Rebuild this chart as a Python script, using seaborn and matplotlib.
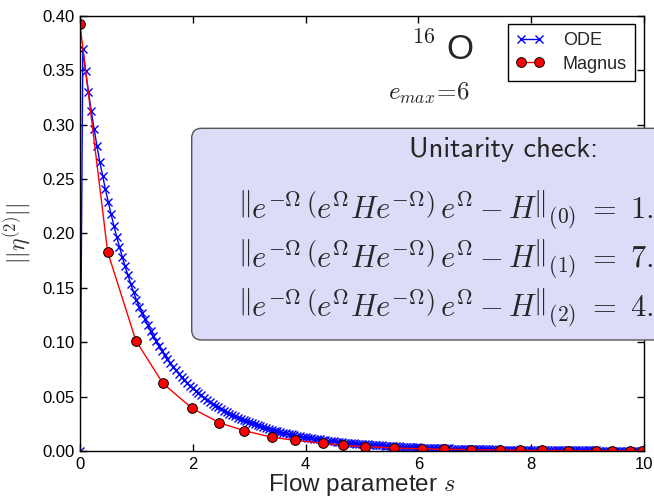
import os
import numpy as np
import matplotlib
matplotlib.use("Agg")
import matplotlib.pyplot as plt
from matplotlib.patches import FancyBboxPatch
from matplotlib.font_manager import FontProperties
import seaborn as sns

# ||eta^(2)|| along the flow, ODE integration (uniform grid in s from 0 to 10)
ode_eta = [0.0,
    0.3690, 0.3490, 0.3300, 0.3125, 0.2960, 0.2805, 0.2660, 0.2530, 0.2405, 0.2290,
    0.2178, 0.2072, 0.1971, 0.1875, 0.1783, 0.1696, 0.1614, 0.1535, 0.1460, 0.1389,
    0.1327, 0.1268, 0.1211, 0.1157, 0.1105, 0.1056, 0.1008, 0.0963, 0.0920, 0.0879,
    0.0842, 0.0807, 0.0774, 0.0741, 0.0711, 0.0681, 0.0653, 0.0626, 0.0600, 0.0575,
    0.0552, 0.0531, 0.0510, 0.0490, 0.0471, 0.0452, 0.0435, 0.0418, 0.0401, 0.0386,
    0.0371, 0.0357, 0.0344, 0.0331, 0.0318, 0.0306, 0.0295, 0.0283, 0.0273, 0.0262,
    0.0253, 0.0244, 0.0235, 0.0226, 0.0218, 0.0210, 0.0202, 0.0195, 0.0188, 0.0181,
    0.0175, 0.0169, 0.0163, 0.0157, 0.0152, 0.0146, 0.0141, 0.0136, 0.0131, 0.0127,
    0.0123, 0.0118, 0.0114, 0.0110, 0.0107, 0.0103, 0.0100, 0.0096, 0.0093, 0.0090,
    0.0087, 0.0084, 0.0081, 0.0078, 0.0076, 0.0073, 0.0071, 0.0068, 0.0066, 0.0064,
    0.0062, 0.0060, 0.0058, 0.0056, 0.0054, 0.0052, 0.0051, 0.0049, 0.0048, 0.0046,
    0.0045, 0.0043, 0.0042, 0.0040, 0.0039, 0.0038, 0.0037, 0.0035, 0.0034, 0.0033,
    0.0032, 0.0031, 0.0030, 0.0029, 0.0028, 0.0027, 0.0026, 0.0025, 0.0025, 0.0024,
    0.0023, 0.0022, 0.0022, 0.0021, 0.0020, 0.0020, 0.0019, 0.0018, 0.0018, 0.0017,
    0.0017, 0.0016, 0.0016, 0.0015, 0.0015, 0.0014, 0.0014, 0.0013, 0.0013, 0.0013,
    0.0012, 0.0012, 0.0011, 0.0011, 0.0011, 0.0010, 0.0010, 0.0010, 0.0009, 0.0009,
    0.0009, 0.0009, 0.0008, 0.0008, 0.0008, 0.0008, 0.0007, 0.0007, 0.0007, 0.0007,
    0.0007, 0.0006, 0.0006, 0.0006, 0.0006, 0.0006, 0.0005, 0.0005, 0.0005, 0.0005,
    0.0005, 0.0005, 0.0005, 0.0004, 0.0004, 0.0004, 0.0004, 0.0004, 0.0004, 0.0004,
    0.0004, 0.0003, 0.0003, 0.0003, 0.0003, 0.0003, 0.0003, 0.0003, 0.0003, 0.0003]
ode_s = np.linspace(0.0, 10.0, len(ode_eta))

# Magnus expansion, adaptive steps in s
magnus_s = [0.0, 0.49, 0.99, 1.47, 1.98, 2.47, 2.91, 3.41, 3.81, 4.30, 4.66, 5.05,
            5.56, 6.06, 6.46, 6.94, 7.45, 7.80, 8.20, 8.66, 9.15, 9.44, 9.75, 9.96]
magnus_eta = [0.392, 0.183, 0.1014, 0.0622, 0.0395, 0.0260, 0.0187, 0.0126, 0.0098,
              0.0071, 0.0052, 0.0040, 0.0028, 0.0020, 0.0016, 0.0012, 0.0009, 0.0007,
              0.0005, 0.0004, 0.0003, 0.0002, 0.0002, 0.0002]

x_ticks = [0, 2, 4, 6, 8, 10]
y_ticks = [0.00, 0.05, 0.10, 0.15, 0.20, 0.25, 0.30, 0.35, 0.40]
series_labels = ["ODE", "Magnus"]

sns.set_style("ticks")
plt.rcParams["font.family"] = ["Liberation Sans", "DejaVu Sans"]
plt.rcParams["mathtext.fontset"] = "cm"

# Computer Modern Sans shipped with matplotlib, for the panel heading
cmss_path = os.path.join(matplotlib.get_data_path(), "fonts", "ttf", "cmss10.ttf")
cmss = FontProperties(fname=cmss_path, size=20.5)

W, H = 654, 500
fig = plt.figure(figsize=(W / 100, H / 100), dpi=100)
ax = fig.add_axes([80 / W, 49 / H, 564 / W, 435.3 / H])

sns.lineplot(x=ode_s, y=ode_eta, ax=ax, color="#0000ff", marker="x",
             markersize=5.5, markeredgewidth=1.0, markeredgecolor="#0000ff",
             linewidth=1.0, label=series_labels[0], clip_on=True)
sns.lineplot(x=magnus_s, y=magnus_eta, ax=ax, color="#ff0000", marker="o",
             markersize=7, markerfacecolor="#ff0000", markeredgecolor="black",
             markeredgewidth=0.7, linewidth=1.0, label=series_labels[1], clip_on=True)

ax.set_xlim(0, 10)
ax.set_ylim(0, 0.40)
ax.set_xticks(x_ticks)
ax.set_xticklabels([str(t) for t in x_ticks])
ax.set_yticks(y_ticks)
ax.set_yticklabels([f"{t:.2f}" for t in y_ticks])
ax.tick_params(direction="in", top=True, right=True, length=5, width=1,
               labelsize=12, pad=4, colors="black")
for sp in ax.spines.values():
    sp.set_visible(True)
    sp.set_color("black")
    sp.set_linewidth(1.0)

ax.set_xlabel(r"Flow parameter $s$", fontsize=17.5, labelpad=0)
ax.set_ylabel(r"$||\eta^{(2)}||$", fontsize=17, labelpad=6, color="#333333")

leg = ax.legend(loc="upper right", bbox_to_anchor=(635 / W, 1 - 24.3 / H),
                bbox_transform=fig.transFigure, borderaxespad=0, fancybox=False,
                framealpha=1, edgecolor="black", fontsize=13, numpoints=2,
                handlelength=1.6, handletextpad=1.0, labelspacing=0.35,
                borderpad=0.45)
leg.get_frame().set_linewidth(1.0)

# nucleus and model-space labels
fig.text(411.7 / W, 1 - 42.7 / H, r"$16$", fontsize=16, va="baseline", ha="left")
fig.text(446 / W, 1 - 59.3 / H, "O", fontsize=25, va="baseline", ha="left")
fig.text(388 / W, 1 - 100 / H, r"$e_{max}\!=\!6$", fontsize=18, va="baseline", ha="left")

# unitarity check panel
box = FancyBboxPatch((1.917, 1.60), 5.2, 2.117,
                     boxstyle="round,pad=0,rounding_size=0.1",
                     transform=fig.dpi_scale_trans, facecolor="#dcdcf8",
                     edgecolor="#555555", linewidth=1.0, zorder=5)
fig.add_artist(box)

fig.text(409 / W, 1 - 156.7 / H, "Unitarity check:", fontproperties=cmss,
         va="baseline", ha="left", zorder=6)
norm_lines = [
    r"$\left\|e^{-\Omega}\,\left(e^{\Omega}He^{-\Omega}\right)\,e^{\Omega}-H\right\|_{(0)}\ =\ 1.$",
    r"$\left\|e^{-\Omega}\,\left(e^{\Omega}He^{-\Omega}\right)\,e^{\Omega}-H\right\|_{(1)}\ =\ 7.$",
    r"$\left\|e^{-\Omega}\,\left(e^{\Omega}He^{-\Omega}\right)\,e^{\Omega}-H\right\|_{(2)}\ =\ 4.$",
]
for txt, yb in zip(norm_lines, [218, 267, 316]):
    fig.text(238 / W, 1 - yb / H, txt, fontsize=22, va="baseline", ha="left", zorder=6)

fig.savefig("out.png", dpi=100)
